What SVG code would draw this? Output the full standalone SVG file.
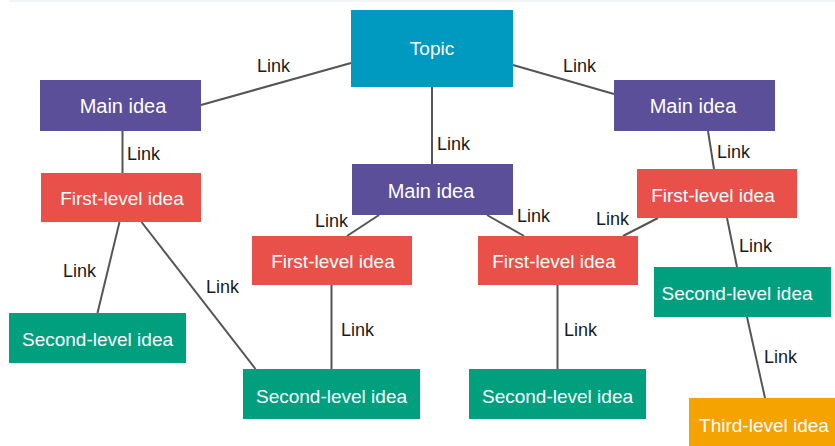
<svg xmlns="http://www.w3.org/2000/svg" width="835" height="446" viewBox="0 0 835 446">
<style>
.nt{font-family:"Liberation Sans",Arial,sans-serif;font-size:19px;fill:#fff;text-anchor:middle}
.big{font-size:20px}
.lk{font-family:"Liberation Sans",Arial,sans-serif;font-size:18px;fill:#1a1a1a}
.c line{stroke:#555;stroke-width:2}
.topic{fill:#0099c0}.main{fill:#5b4f99}.first{fill:#e9504a}.second{fill:#00a07f}.third{fill:#f5a300}
</style>
<rect x="0" y="0" width="835" height="446" fill="#fff"/>
<rect x="9" y="0" width="826" height="2" fill="#f3f6f9"/>
<g class="c" id="connectors">
<line x1="201" y1="105" x2="351" y2="63"/>
<line x1="513" y1="65" x2="614" y2="94"/>
<line x1="432" y1="87" x2="432" y2="164"/>
<line x1="122.5" y1="131" x2="122.5" y2="173"/>
<line x1="708" y1="131" x2="714" y2="169"/>
<line x1="379" y1="215" x2="347" y2="236"/>
<line x1="487" y1="215" x2="524" y2="236"/>
<line x1="658" y1="218" x2="623" y2="236"/>
<line x1="727" y1="218" x2="737" y2="267"/>
<line x1="747" y1="317" x2="765" y2="398"/>
<line x1="557.5" y1="285" x2="557.5" y2="369"/>
<line x1="331.5" y1="285" x2="331.5" y2="369"/>
<line x1="119.5" y1="222" x2="97.5" y2="313"/>
<line x1="141.5" y1="222" x2="255.5" y2="369"/>
<text class="lk" x="257" y="72">Link</text>
<text class="lk" x="563" y="72">Link</text>
<text class="lk" x="437" y="150">Link</text>
<text class="lk" x="127" y="160">Link</text>
<text class="lk" x="717" y="158">Link</text>
<text class="lk" x="315" y="227">Link</text>
<text class="lk" x="517" y="222">Link</text>
<text class="lk" x="596" y="225">Link</text>
<text class="lk" x="739" y="252">Link</text>
<text class="lk" x="764" y="363">Link</text>
<text class="lk" x="564" y="336">Link</text>
<text class="lk" x="341" y="336">Link</text>
<text class="lk" x="63" y="277">Link</text>
<text class="lk" x="206" y="293">Link</text>
</g>
<g id="topic"><rect class="topic" x="351" y="10" width="162" height="77"/><text class="nt" x="432" y="55">Topic</text></g>
<g id="main-left"><rect class="main" x="40" y="80" width="161" height="51"/><text class="nt big" x="123" y="112.5">Main idea</text></g>
<g id="main-right"><rect class="main" x="614" y="80" width="161" height="51"/><text class="nt big" x="693" y="113">Main idea</text></g>
<g id="main-center"><rect class="main" x="352" y="164" width="161" height="51"/><text class="nt big" x="431" y="198">Main idea</text></g>
<g id="first-left"><rect class="first" x="41" y="173" width="160" height="49"/><text class="nt" x="122" y="205">First-level idea</text></g>
<g id="first-right"><rect class="first" x="637" y="169" width="160" height="49"/><text class="nt" x="713" y="201.5">First-level idea</text></g>
<g id="first-cl"><rect class="first" x="252" y="236" width="160" height="49"/><text class="nt" x="333" y="268">First-level idea</text></g>
<g id="first-cr"><rect class="first" x="478" y="236" width="160" height="49"/><text class="nt" x="554" y="268">First-level idea</text></g>
<g id="second-left"><rect class="second" x="9" y="313" width="177" height="50"/><text class="nt" x="97.5" y="346">Second-level idea</text></g>
<g id="second-ml"><rect class="second" x="243" y="369" width="177" height="50"/><text class="nt" x="331.5" y="402.5">Second-level idea</text></g>
<g id="second-mr"><rect class="second" x="469" y="369" width="177" height="50"/><text class="nt" x="557.5" y="402.5">Second-level idea</text></g>
<g id="second-right"><rect class="second" x="654" y="267" width="177" height="50"/><text class="nt" x="737" y="300">Second-level idea</text></g>
<g id="third"><rect class="third" x="689" y="398" width="146" height="50"/><text class="nt" x="764" y="431.5">Third-level idea</text></g>
</svg>
